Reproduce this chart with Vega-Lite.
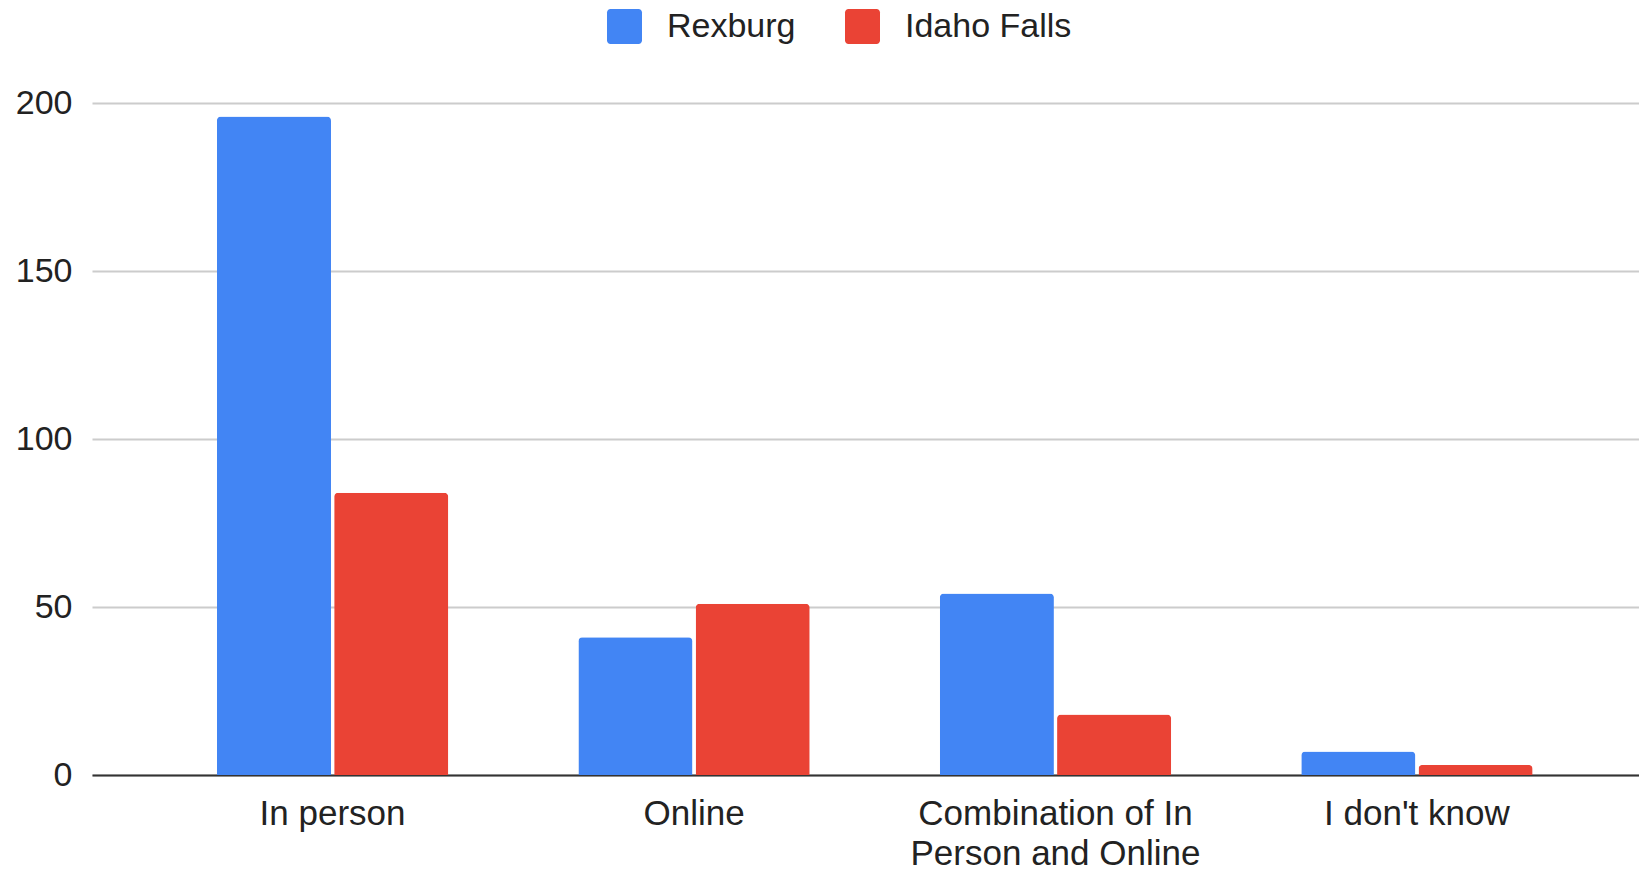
{
  "$schema": "https://vega.github.io/schema/vega-lite/v6.json",
  "autosize": {"type": "none"},
  "width": 1547,
  "height": 672,
  "padding": {"left": 92, "top": 103, "right": 0, "bottom": 94},
  "background": "white",
  "config": {
    "view": {"stroke": null},
    "font": "Liberation Sans"
  },
  "data": {
    "values": [
      {"mode": "In person", "city": "Rexburg", "count": 196},
      {"mode": "In person", "city": "Idaho Falls", "count": 84},
      {"mode": "Online", "city": "Rexburg", "count": 41},
      {"mode": "Online", "city": "Idaho Falls", "count": 51},
      {"mode": "Combination of In Person and Online", "city": "Rexburg", "count": 54},
      {"mode": "Combination of In Person and Online", "city": "Idaho Falls", "count": 18},
      {"mode": "I don't know", "city": "Rexburg", "count": 7},
      {"mode": "I don't know", "city": "Idaho Falls", "count": 3}
    ]
  },
  "mark": {"type": "bar", "cornerRadiusTopLeft": 4, "cornerRadiusTopRight": 4},
  "encoding": {
    "x": {
      "field": "mode",
      "type": "nominal",
      "sort": ["In person", "Online", "Combination of In Person and Online", "I don't know"],
      "scale": {"paddingInner": 0.36, "paddingOuter": 0.32, "align": 0.54},
      "axis": {
        "title": null,
        "labelAngle": 0,
        "ticks": false,
        "domainColor": "#333333",
        "domainWidth": 2,
        "labelFontSize": 35,
        "labelColor": "#222222",
        "labelPadding": 21,
        "labelLineHeight": 40,
        "labelLimit": 0,
        "labelExpr": "datum.label == 'Combination of In Person and Online' ? ['Combination of In', 'Person and Online'] : datum.label"
      }
    },
    "xOffset": {
      "field": "city",
      "type": "nominal",
      "sort": ["Rexburg", "Idaho Falls"],
      "scale": {"paddingInner": 0.027, "paddingOuter": 0}
    },
    "y": {
      "field": "count",
      "type": "quantitative",
      "scale": {"domain": [0, 200]},
      "axis": {
        "title": null,
        "values": [0, 50, 100, 150, 200],
        "domain": false,
        "ticks": false,
        "gridColor": "#cccccc",
        "gridWidth": 2,
        "labelFontSize": 34,
        "labelColor": "#222222",
        "labelPadding": 20
      }
    },
    "color": {
      "field": "city",
      "type": "nominal",
      "sort": ["Rexburg", "Idaho Falls"],
      "scale": {"domain": ["Rexburg", "Idaho Falls"], "range": ["#4285F4", "#EA4335"]},
      "legend": {
        "title": null,
        "orient": "none",
        "direction": "horizontal",
        "legendX": 515,
        "legendY": -94,
        "padding": 0,
        "symbolType": "M-0.8,-1 h1.6 a0.2,0.2 0 0 1 0.2,0.2 v1.6 a0.2,0.2 0 0 1 -0.2,0.2 h-1.6 a0.2,0.2 0 0 1 -0.2,-0.2 v-1.6 a0.2,0.2 0 0 1 0.2,-0.2 z",
        "symbolSize": 1225,
        "symbolStrokeWidth": 0,
        "labelFontSize": 34,
        "labelLimit": 0,
        "labelColor": "#222222",
        "labelOffset": 25,
        "columnPadding": 49
      }
    }
  }
}
